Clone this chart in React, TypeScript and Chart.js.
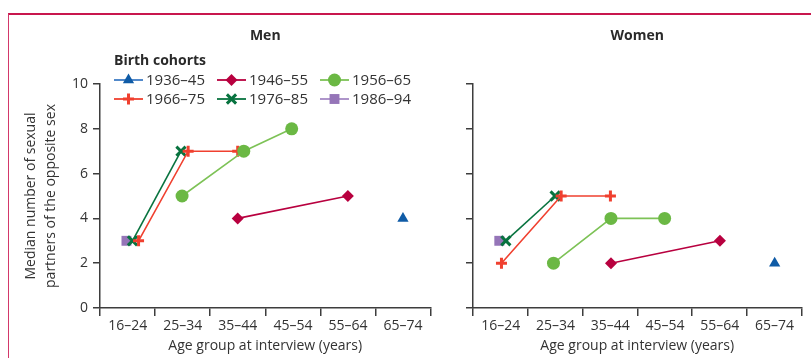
import React, { useEffect, useRef } from 'react';
import { Chart, registerables } from 'chart.js';
import { drawPoint } from 'chart.js/helpers';

Chart.register(...registerables);

// ---------- data ----------
const categories = ['16–24', '25–34', '35–44', '45–54', '55–64', '65–74'];
const yTickValues = [0, 2, 4, 6, 8, 10];
const cohorts = ['1936–45', '1946–55', '1956–65', '1966–75', '1976–85', '1986–94'];

// positions along the age-group axis (group index + place inside the group) and medians
const men1936X = [5.5];
const men1936Y = [4];
const men1946X = [2.5, 4.5];
const men1946Y = [4, 5];
const men1956X = [1.49, 2.61, 3.48];
const men1956Y = [5, 7, 8];
const men1966X = [0.7, 1.6, 2.5];
const men1966Y = [3, 7, 7];
const men1976X = [0.59, 1.47];
const men1976Y = [3, 7];
const men1986X = [0.48];
const men1986Y = [3];

const women1936X = [5.51];
const women1936Y = [2];
const women1946X = [2.52, 4.51];
const women1946Y = [2, 3];
const women1956X = [1.47, 2.52, 3.5];
const women1956Y = [2, 4, 4];
const women1966X = [0.52, 1.61, 2.51];
const women1966Y = [2, 5, 5];
const women1976X = [0.6, 1.5];
const women1976Y = [3, 5];
const women1986X = [0.48];
const women1986Y = [3];

// ---------- styles ----------
const FONT = '"Open Sans", "Noto Sans", sans-serif';
const TEXT = '#333333';
const AXIS = '#3d3d3d';

const styles = [
  { line: '#3f7cc4', fill: '#0f5ba6', style: 'triangle', r: 6.5, bw: 0 },
  { line: '#b8003f', fill: '#b8003f', style: 'rectRot', r: 6, bw: 0 },
  { line: '#7dc256', fill: '#6bb844', style: 'circle', r: 6.5, bw: 0 },
  { line: '#f0402f', fill: '#f0402f', style: 'cross', r: 5.5, bw: 3 },
  { line: '#08733f', fill: '#08733f', style: 'crossRot', r: 6.5, bw: 3 },
  { line: '#a58ac4', fill: '#9575b8', style: 'rect', r: 7, bw: 0 },
];

function makeDataset(i: number, xs: number[], ys: number[]) {
  const st = styles[i];
  return {
    label: cohorts[i],
    data: xs.map((x, k) => ({ x, y: ys[k] })),
    borderColor: st.line,
    backgroundColor: st.fill,
    pointBackgroundColor: st.fill,
    pointBorderColor: st.fill,
    pointStyle: st.style,
    pointRadius: st.r,
    pointHoverRadius: st.r,
    pointBorderWidth: st.bw,
    borderWidth: 1.6,
    fill: false,
    tension: 0,
    clip: false,
  };
}

const titlePlugin = (text: string) => ({
  id: 'panelTitle',
  afterDraw(chart: any) {
    const { ctx, chartArea } = chart;
    ctx.save();
    ctx.font = `bold 14px ${FONT}`;
    ctx.fillStyle = '#2a2a2a';
    ctx.textAlign = 'center';
    ctx.textBaseline = 'middle';
    ctx.fillText(text, (chartArea.left + chartArea.right) / 2, chartArea.top - 48);
    ctx.restore();
  },
});

const legendPlugin = {
  id: 'cohortLegend',
  afterDraw(chart: any) {
    const { ctx, chartArea } = chart;
    const x = chartArea.left + 14;
    const yTitle = chartArea.top - 23;
    ctx.save();
    ctx.font = `bold 14px ${FONT}`;
    ctx.fillStyle = '#2a2a2a';
    ctx.textAlign = 'left';
    ctx.textBaseline = 'middle';
    ctx.fillText('Birth cohorts', x, yTitle);
    const colW = 103;
    const rowH = 19;
    cohorts.forEach((c, i) => {
      const st = styles[i];
      const x0 = x + (i % 3) * colW;
      const y0 = yTitle + 19 + Math.floor(i / 3) * rowH;
      ctx.strokeStyle = st.line;
      ctx.lineWidth = 1.8;
      ctx.beginPath();
      ctx.moveTo(x0, y0);
      ctx.lineTo(x0 + 29, y0);
      ctx.stroke();
      ctx.fillStyle = st.fill;
      ctx.strokeStyle = st.fill;
      ctx.lineWidth = st.bw;
      drawPoint(ctx, { pointStyle: st.style, radius: st.r, rotation: 0, borderWidth: st.bw } as any, x0 + 14.5, y0);
      ctx.fillStyle = TEXT;
      ctx.font = `15px ${FONT}`;
      ctx.fillText(c, x0 + 32, y0 + 0.5);
    });
    ctx.restore();
  },
};

function buildOptions(showYLabels: boolean, yWidth: number, padRight: number) {
  const catW = { v: 0 };
  return {
    responsive: false,
    animation: false as const,
    layout: { padding: { left: 0, right: padRight, top: 84, bottom: 0 } },
    plugins: { legend: { display: false }, tooltip: { enabled: false }, title: { display: false } },
    scales: {
      x: {
        type: 'linear' as const,
        min: 0,
        max: 6,
        afterBuildTicks(scale: any) {
          scale.ticks = [0, 1, 2, 3, 4, 5, 6].map((v) => ({ value: v }));
        },
        afterFit(scale: any) {
          scale.height = 50;
        },
        grid: {
          drawOnChartArea: false,
          drawTicks: true,
          tickLength: 8,
          color: AXIS,
          lineWidth: 1.5,
        },
        border: { display: true, color: AXIS, width: 1.5 },
        ticks: {
          autoSkip: false,
          maxRotation: 0,
          padding: 2,
          labelOffset: 27.7,
          color: TEXT,
          font: { family: FONT, size: 14 },
          callback: (v: number) => (categories[v] !== undefined ? categories[v] : ''),
        },
        title: {
          display: true,
          text: 'Age group at interview (years)',
          color: TEXT,
          font: { family: FONT, size: 14 },
          padding: { top: 0, bottom: 4 },
        },
      },
      y: {
        type: 'linear' as const,
        min: 0,
        max: 10,
        afterBuildTicks(scale: any) {
          scale.ticks = yTickValues.map((v) => ({ value: v }));
        },
        afterFit(scale: any) {
          scale.width = yWidth;
        },
        grid: {
          drawOnChartArea: false,
          drawTicks: true,
          tickLength: 7,
          color: AXIS,
          lineWidth: 1.5,
        },
        border: { display: true, color: AXIS, width: 1.5 },
        ticks: {
          padding: 5,
          color: TEXT,
          font: { family: FONT, size: 14 },
          callback: (v: number) => (showYLabels ? String(v) : ''),
        },
        title: {
          display: showYLabels,
          text: ['Median number of sexual', 'partners of the opposite sex'],
          color: TEXT,
          font: { family: FONT, size: 14, lineHeight: 1.43 },
          padding: { top: 21, bottom: 0 },
        },
      },
    },
  };
}

function Panel(props: { title: string; datasets: any[]; left: number; width: number; yWidth: number; padRight: number; legend: boolean }) {
  const ref = useRef<HTMLCanvasElement>(null);
  useEffect(() => {
    const plugins: any[] = [titlePlugin(props.title)];
    if (props.legend) plugins.push(legendPlugin);
    const chart = new Chart(ref.current as HTMLCanvasElement, {
      type: 'line',
      data: { datasets: props.datasets },
      options: buildOptions(props.legend, props.yWidth, props.padRight) as any,
      plugins,
    });
    return () => chart.destroy();
  }, []);
  return (
    <canvas
      ref={ref}
      width={props.width}
      height={358}
      style={{ position: 'absolute', left: props.left, top: 0, width: props.width, height: 358 }}
    />
  );
}

export default function App() {
  const menSets = [
    makeDataset(0, men1936X, men1936Y),
    makeDataset(1, men1946X, men1946Y),
    makeDataset(2, men1956X, men1956Y),
    makeDataset(3, men1966X, men1966Y),
    makeDataset(4, men1976X, men1976Y),
    makeDataset(5, men1986X, men1986Y),
  ];
  const womenSets = [
    makeDataset(0, women1936X, women1936Y),
    makeDataset(1, women1946X, women1946Y),
    makeDataset(2, women1956X, women1956Y),
    makeDataset(3, women1966X, women1966Y),
    makeDataset(4, women1976X, women1976Y),
    makeDataset(5, women1986X, women1986Y),
  ];
  return (
    <div style={{ position: 'absolute', left: 0, top: 0, width: 811, height: 358, background: '#fff', overflow: 'hidden' }}>
      <div
        style={{
          position: 'absolute',
          left: 8,
          top: 13,
          width: 803,
          height: 345,
          borderTop: '2px solid #c8174d',
          borderLeft: '1px solid #d3386a',
          boxSizing: 'border-box',
        }}
      />
      <Panel title="Men" datasets={menSets} left={0} width={440} yWidth={100} padRight={7} legend={true} />
      <Panel title="Women" datasets={womenSets} left={440} width={371} yWidth={33} padRight={5} legend={false} />
    </div>
  );
}
